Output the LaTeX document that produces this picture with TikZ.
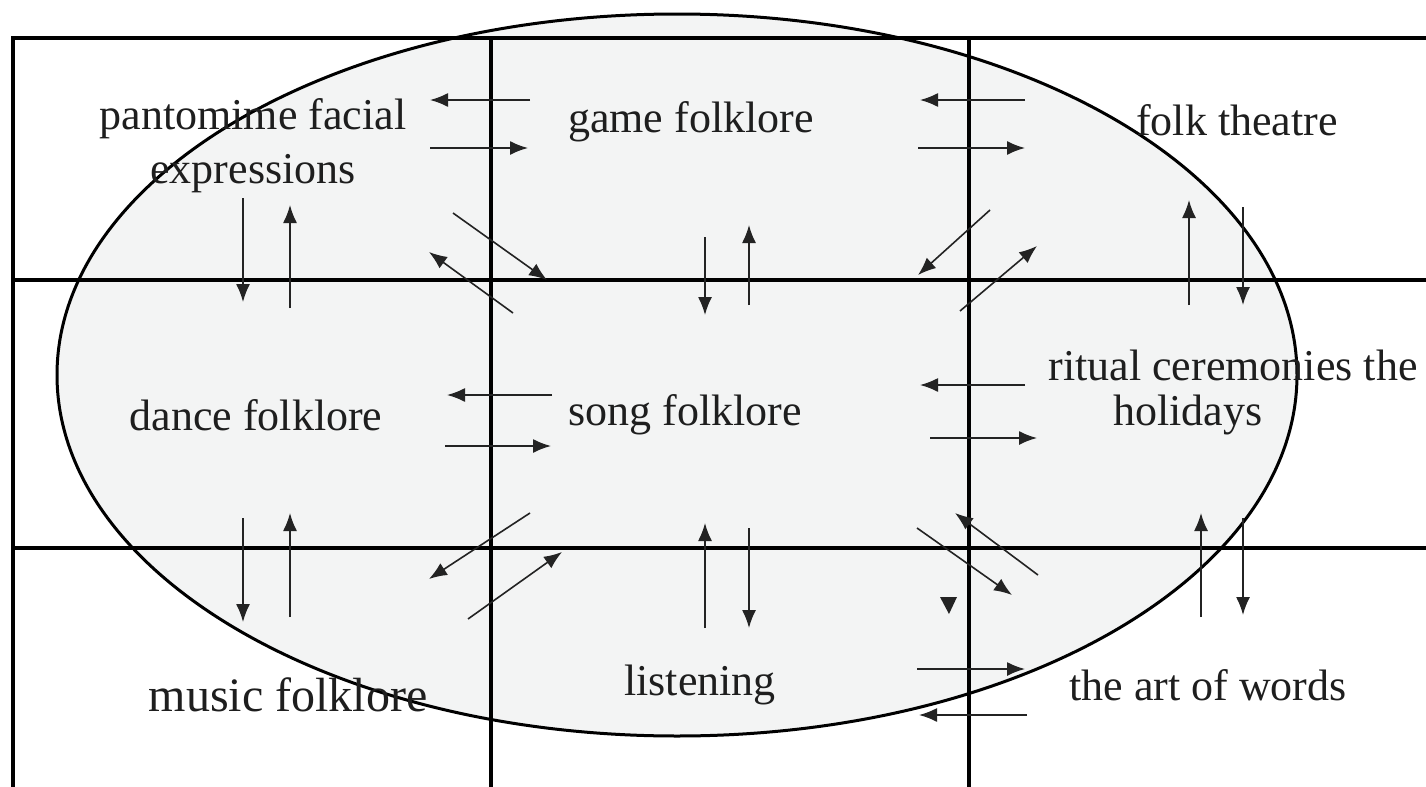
\documentclass[tikz,border=0pt]{standalone}
\usepackage{fontspec}
\setmainfont{Liberation Serif}
\usetikzlibrary{arrows.meta}
\definecolor{ellfill}{RGB}{243,244,244}
\definecolor{txt}{RGB}{30,30,30}
\definecolor{arr}{RGB}{35,35,35}
\tikzset{
  gridline/.style={line width=1.7pt,black},
  lbl/.style={font=\fontsize{22}{25}\selectfont,text=txt,inner sep=0pt,align=center},
  arw/.style={line width=0.8pt,arr,-{Latex[length=9pt,width=7pt]}},
}
\begin{document}
\begin{tikzpicture}[x=0.5pt,y=-0.5pt]
\useasboundingbox (0,0) rectangle (1426,787);
% ellipse fill
\fill[ellfill] (677,375) ellipse [x radius=310pt, y radius=180.5pt];
% grid
\draw[gridline] (13,787) -- (13,38) -- (1426,38);
\draw[gridline] (13,280) -- (1426,280);
\draw[gridline] (13,548) -- (1426,548);
\draw[gridline] (491,38) -- (491,787);
\draw[gridline] (969,38) -- (969,787);
% ellipse outline
\draw[line width=1.5pt] (677,375) ellipse [x radius=310pt, y radius=180.5pt];
% labels
\node[lbl] (pant) at (253,146) {pantomime facial\\[2pt]expressions};
\node[lbl] (game) at (691,122) {game folklore};
\node[lbl] (theatre) at (1237,120) {folk theatre};
\node[lbl] (dance) at (256,415) {dance folklore};
\node[lbl] (song) at (685,415) {song folklore};
\node[lbl] (rit1) at (1233,365) {ritual ceremonies the};
\node[lbl] (rit2) at (1188,415) {holidays};
\node[lbl,font=\fontsize{24}{27}\selectfont] (music) at (288,695) {music folklore};
\node[lbl] (listen) at (700,685) {listening};
\node[lbl] (words) at (1208,685) {the art of words};
% top row horizontals
\draw[arw] (530,100) -- (430,100);
\draw[arw] (430,148) -- (528,148);
\draw[arw] (1025,100) -- (920,100);
\draw[arw] (918,148) -- (1025,148);
% verticals rows 1-2
\draw[arw] (243,198) -- (243,302);
\draw[arw] (290,308) -- (290,205);
\draw[arw] (705,237) -- (705,315);
\draw[arw] (749,305) -- (749,225);
\draw[arw] (1189,305) -- (1189,200);
\draw[arw] (1243,207) -- (1243,305);
% diagonals upper
\draw[arw] (453,213) -- (547,280);
\draw[arw] (513,313) -- (429,252);
\draw[arw] (990,210) -- (918,275);
\draw[arw] (960,311) -- (1037,246);
% middle row horizontals
\draw[arw] (552,395) -- (447,395);
\draw[arw] (445,446) -- (551,446);
\draw[arw] (1025,385) -- (920,385);
\draw[arw] (930,438) -- (1037,438);
% verticals rows 2-3
\draw[arw] (243,518) -- (243,622);
\draw[arw] (290,617) -- (290,513);
\draw[arw] (705,628) -- (705,523);
\draw[arw] (749,528) -- (749,628);
\draw[arw] (1201,617) -- (1201,513);
\draw[arw] (1243,518) -- (1243,615);
% diagonals lower
\draw[arw] (530,513) -- (429,579);
\draw[arw] (468,619) -- (562,552);
\draw[arw] (1038,575) -- (955,513);
\draw[arw] (917,528) -- (1012,595);
% lone arrowhead
\fill[arr] (940,597) -- (957,597) -- (949,614) -- cycle;
% bottom row horizontals
\draw[arw] (917,669) -- (1025,669);
\draw[arw] (1027,715) -- (919,715);
\end{tikzpicture}
\end{document}
